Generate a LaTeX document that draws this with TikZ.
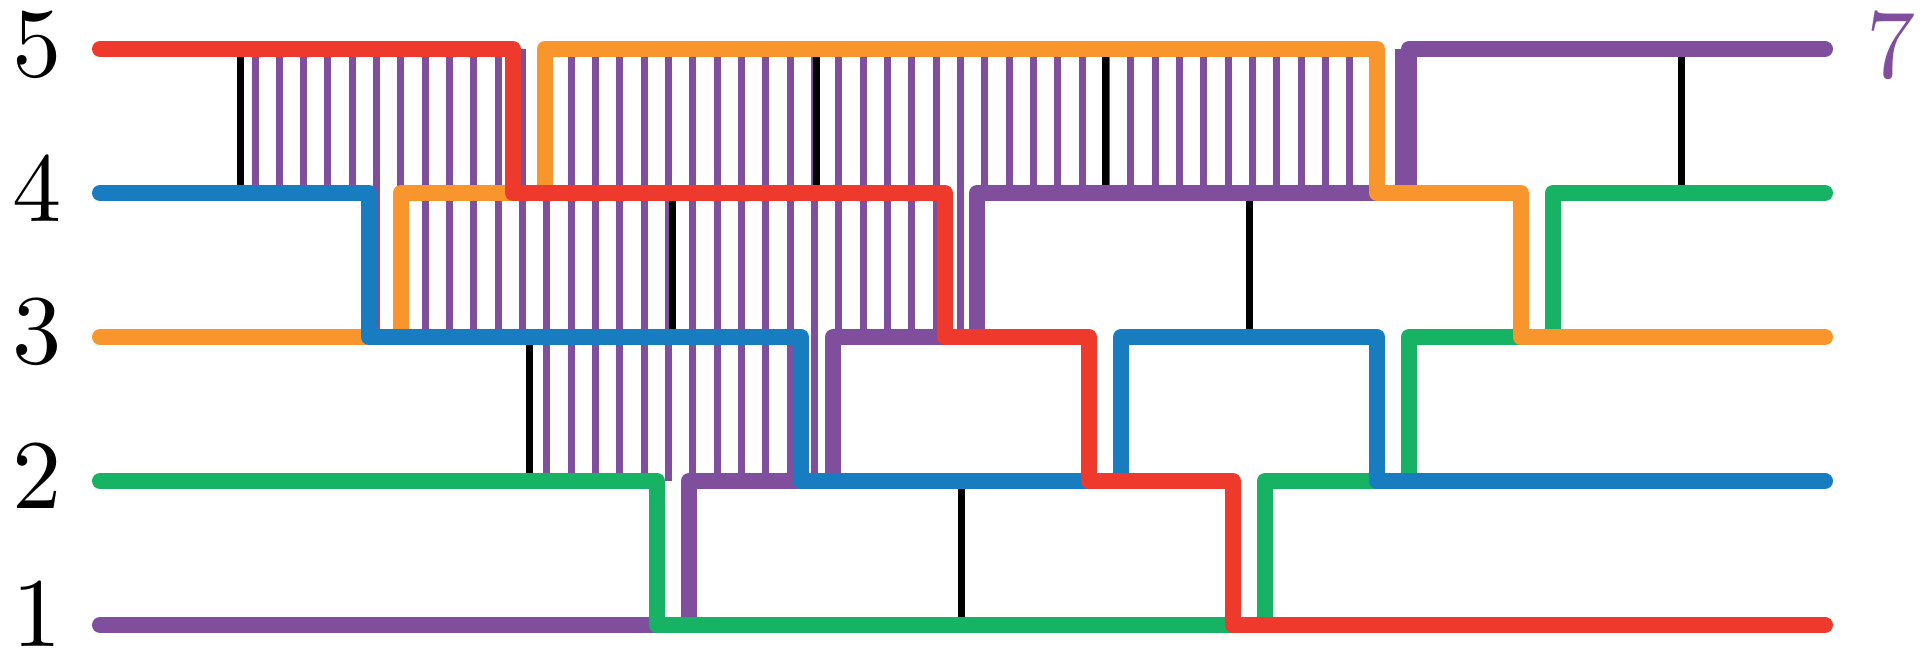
\documentclass[tikz,border=0pt]{standalone}
\definecolor{cred}{RGB}{238,58,44}
\definecolor{cblue}{RGB}{24,124,192}
\definecolor{corange}{RGB}{248,150,45}
\definecolor{cgreen}{RGB}{24,178,100}
\definecolor{cpurple}{RGB}{127,79,158}
\begin{document}
\begin{tikzpicture}[x=0.01cm,y=-0.01cm,
  strand/.style={line width=0.16cm, line cap=round, line join=round},
  rung/.style={line width=0.07cm, cpurple},
  blk/.style={line width=0.07cm, black},
  lab/.style={scale=2.8, inner sep=0pt}]
\useasboundingbox (0,0) rectangle (1921,652);
% thin purple rungs
\foreach \k in {0,...,47} \draw[rung] ({255+24.33*\k},49) -- ({255+24.33*\k},193);
\foreach \k in {5,...,29} \draw[rung] ({255+24.33*\k},193) -- ({255+24.33*\k},337);
\foreach \k in {12,...,23} \draw[rung] ({255+24.33*\k},337) -- ({255+24.33*\k},481);
% black rungs
\draw[blk] (240.7,49) -- (240.7,193);
\draw[blk] (816.7,49) -- (816.7,193);
\draw[blk] (1105.3,49) -- (1105.3,193);
\draw[blk] (1681.4,49) -- (1681.4,193);
\draw[blk] (672.7,193) -- (672.7,337);
\draw[blk] (1249.3,193) -- (1249.3,337);
\draw[blk] (529,337) -- (529,481);
\draw[blk] (961.5,481) -- (961.5,625);
% strands
\draw[strand, cpurple] (100,625) -- (689,625) -- (689,481) -- (833,481) -- (833,337) -- (977,337) -- (977,193) -- (1409,193) -- (1409,49) -- (1825,49);
\draw[strand, cgreen] (100,481) -- (657,481) -- (657,625) -- (1265,625) -- (1265,481) -- (1409,481) -- (1409,337) -- (1553,337) -- (1553,193) -- (1825,193);
\draw[strand, corange] (100,337) -- (401,337) -- (401,193) -- (545,193) -- (545,49) -- (1377,49) -- (1377,193) -- (1521,193) -- (1521,337) -- (1825,337);
\draw[strand, cblue] (100,193) -- (369,193) -- (369,337) -- (801,337) -- (801,481) -- (1121,481) -- (1121,337) -- (1377,337) -- (1377,481) -- (1825,481);
\draw[strand, cred] (100,49) -- (513,49) -- (513,193) -- (945,193) -- (945,337) -- (1089,337) -- (1089,481) -- (1233,481) -- (1233,625) -- (1825,625);
% labels
\node[lab] (l5) at (37,45) {5};
\node[lab] (l4) at (37,188) {4};
\node[lab] (l3) at (37,332) {3};
\node[lab] (l2) at (37,476) {2};
\node[lab] (l1) at (37,614) {1};
\node[lab, text=cpurple] (l7) at (1891,45) {7};
\end{tikzpicture}
\end{document}
